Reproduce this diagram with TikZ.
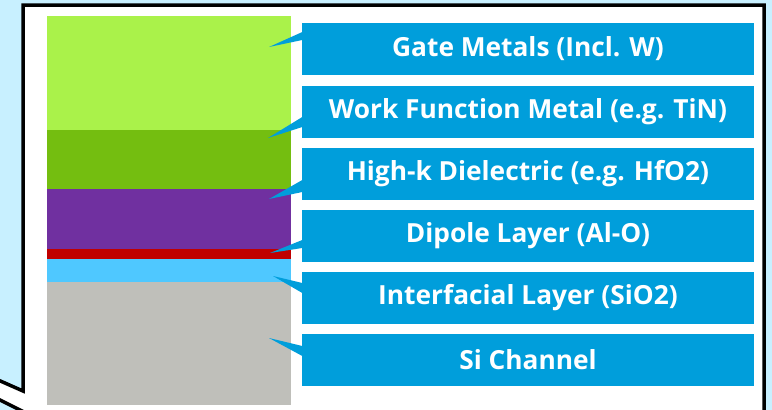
\documentclass[tikz,border=0pt]{standalone}
\usepackage{fontspec}
\setmainfont{Open Sans}
\usetikzlibrary{calc}
\definecolor{BgBlue}{HTML}{C8F0FF}
\definecolor{TagBlue}{HTML}{009EDB}
\definecolor{GateGreen}{HTML}{AAF24A}
\definecolor{WfGreen}{HTML}{74BE10}
\definecolor{HkPurple}{HTML}{7030A0}
\definecolor{DipRed}{HTML}{C00000}
\definecolor{IlBlue}{HTML}{4FC8FF}
\definecolor{SiGray}{HTML}{BFBFBA}
\tikzset{
  layer/.style={rectangle, inner sep=0pt, minimum width=244pt, anchor=north west},
  tag/.style={rectangle, fill=TagBlue, text=white, inner sep=0pt,
    minimum width=452pt, minimum height=52pt,
    font=\fontsize{26.3}{30}\selectfont\bfseries},
  wedge/.style={fill=TagBlue}
}
\begin{document}
\begin{tikzpicture}[x=1pt,y=-1pt]
  %Nền
  \useasboundingbox (0,0) rectangle (772,410);
  \fill[BgBlue] (0,0) rectangle (772,410);
  \clip (0,0) rectangle (772,410);
  %Khung
  \filldraw[fill=white, draw=black, line width=3.5pt] (23,5) -- (764,5) -- (764,430) -- (60,430)
    -- (-20,390) -- (-20,372) -- (23,391) -- cycle;
  %Các lớp
  \node[layer, fill=GateGreen, minimum height=114pt] (gate) at (47,16) {};
  \node[layer, fill=WfGreen, minimum height=59pt] (wf) at (47,130) {};
  \node[layer, fill=HkPurple, minimum height=60pt] (hk) at (47,189) {};
  \node[layer, fill=DipRed, minimum height=10pt] (dip) at (47,249) {};
  \node[layer, fill=IlBlue, minimum height=23pt] (il) at (47,259) {};
  \node[layer, fill=SiGray, minimum height=123pt] (si) at (47,282) {};
  %Nhãn
  \node[tag] (tgate) at (528,49) {Gate Metals (Incl. W)};
  \node[tag] (twf) at (528,111.5) {Work Function Metal (e.g. TiN)};
  \node[tag] (thk) at (528,174) {High-k Dielectric (e.g. HfO2)};
  \node[tag] (tdip) at (528,236) {Dipole Layer (Al-O)};
  \node[tag] (til) at (528,298) {Interfacial Layer (SiO2)};
  \node[tag] (tsi) at (528,360) {Si Channel};
  %Mũi chỉ
  \coordinate (pgate) at (269,47);
  \coordinate (pwf) at (268,138);
  \coordinate (phk) at (269,199);
  \coordinate (pdip) at (270,253);
  \coordinate (pil) at (273,276);
  \coordinate (psi) at (269,338);
  \fill[wedge] ($(tgate.west)+(0.5,-17)$) -- (pgate) -- ($(tgate.west)+(0.5,-9)$) -- cycle;
  \fill[wedge] ($(twf.west)+(0.5,5.5)$) -- (pwf) -- ($(twf.west)+(0.5,15.5)$) -- cycle;
  \fill[wedge] ($(thk.west)+(0.5,6)$) -- (phk) -- ($(thk.west)+(0.5,18)$) -- cycle;
  \fill[wedge] ($(tdip.west)+(0.5,4)$) -- (pdip) -- ($(tdip.west)+(0.5,12)$) -- cycle;
  \fill[wedge] ($(til.west)+(0.5,-15)$) -- (pil) -- ($(til.west)+(0.5,-5)$) -- cycle;
  \fill[wedge] ($(tsi.west)+(0.5,-14)$) -- (psi) -- ($(tsi.west)+(0.5,-4)$) -- cycle;
\end{tikzpicture}
\end{document}
